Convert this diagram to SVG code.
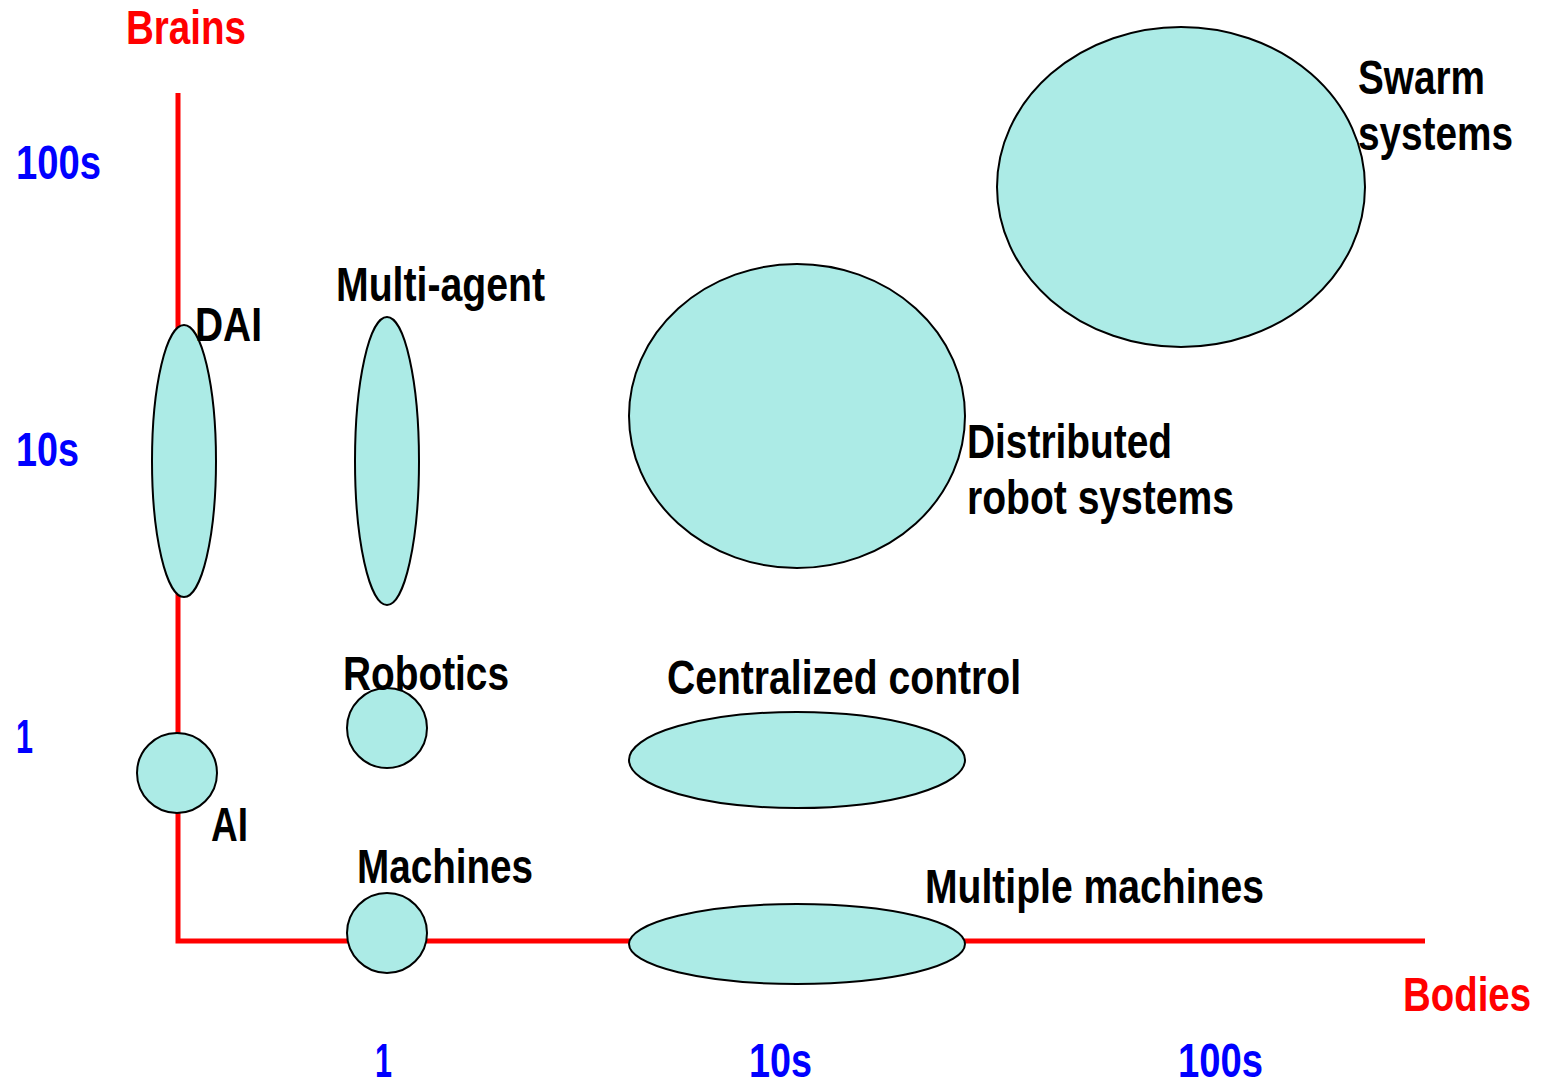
<svg xmlns="http://www.w3.org/2000/svg" width="1544" height="1082" viewBox="0 0 1544 1082">
<style>
text{font-family:"Liberation Sans Narrow","Liberation Sans",Arial,sans-serif;font-weight:bold;font-size:48px;}
.lab{fill:#000;}
.axl{fill:#ff0000;}
.tick{fill:#0000ff;}
.blob{fill:#acebe6;stroke:#000;stroke-width:2;}
.axis{stroke:#ff0000;stroke-width:5;fill:none;}
</style>
<rect width="1544" height="1082" fill="#fff"/>
<g id="axes">
<path class="axis" d="M178,93 V941 H1425"/>
</g>
<g id="axis-labels">
<text class="axl" x="126" y="44" textLength="120" lengthAdjust="spacingAndGlyphs">Brains</text>
<text class="axl" x="1403" y="1011" textLength="128" lengthAdjust="spacingAndGlyphs">Bodies</text>
<text class="tick" x="16" y="179" textLength="85" lengthAdjust="spacingAndGlyphs">100s</text>
<text class="tick" x="16" y="466" textLength="63" lengthAdjust="spacingAndGlyphs">10s</text>
<text class="tick" x="16" y="753" textLength="17" lengthAdjust="spacingAndGlyphs">1</text>
<text class="tick" x="375" y="1077" textLength="17" lengthAdjust="spacingAndGlyphs">1</text>
<text class="tick" x="749" y="1077" textLength="63" lengthAdjust="spacingAndGlyphs">10s</text>
<text class="tick" x="1178" y="1077" textLength="85" lengthAdjust="spacingAndGlyphs">100s</text>
</g>
<g id="dai">
<ellipse class="blob" cx="184" cy="461" rx="32" ry="136"/>
<text class="lab" x="195" y="341" textLength="67" lengthAdjust="spacingAndGlyphs">DAI</text>
</g>
<g id="multi-agent">
<ellipse class="blob" cx="387" cy="461" rx="32" ry="144"/>
<text class="lab" x="336" y="301" textLength="209" lengthAdjust="spacingAndGlyphs">Multi-agent</text>
</g>
<g id="distributed">
<ellipse class="blob" cx="797" cy="416" rx="168" ry="152"/>
<text class="lab" x="967" y="458" textLength="205" lengthAdjust="spacingAndGlyphs">Distributed</text>
<text class="lab" x="967" y="514" textLength="267" lengthAdjust="spacingAndGlyphs">robot systems</text>
</g>
<g id="swarm">
<ellipse class="blob" cx="1181" cy="187" rx="184" ry="160"/>
<text class="lab" x="1358" y="94" textLength="127" lengthAdjust="spacingAndGlyphs">Swarm</text>
<text class="lab" x="1358" y="150" textLength="155" lengthAdjust="spacingAndGlyphs">systems</text>
</g>
<g id="ai">
<circle class="blob" cx="177" cy="773" r="40"/>
<text class="lab" x="211" y="841" textLength="37" lengthAdjust="spacingAndGlyphs">AI</text>
</g>
<g id="robotics">
<circle class="blob" cx="387" cy="728" r="40"/>
<text class="lab" x="343" y="690" textLength="166" lengthAdjust="spacingAndGlyphs">Robotics</text>
</g>
<g id="centralized">
<ellipse class="blob" cx="797" cy="760" rx="168" ry="48"/>
<text class="lab" x="667" y="694" textLength="354" lengthAdjust="spacingAndGlyphs">Centralized control</text>
</g>
<g id="machines">
<circle class="blob" cx="387" cy="933" r="40"/>
<text class="lab" x="357" y="883" textLength="176" lengthAdjust="spacingAndGlyphs">Machines</text>
</g>
<g id="multiple-machines">
<ellipse class="blob" cx="797" cy="944" rx="168" ry="40"/>
<text class="lab" x="925" y="903" textLength="339" lengthAdjust="spacingAndGlyphs">Multiple machines</text>
</g>
</svg>
